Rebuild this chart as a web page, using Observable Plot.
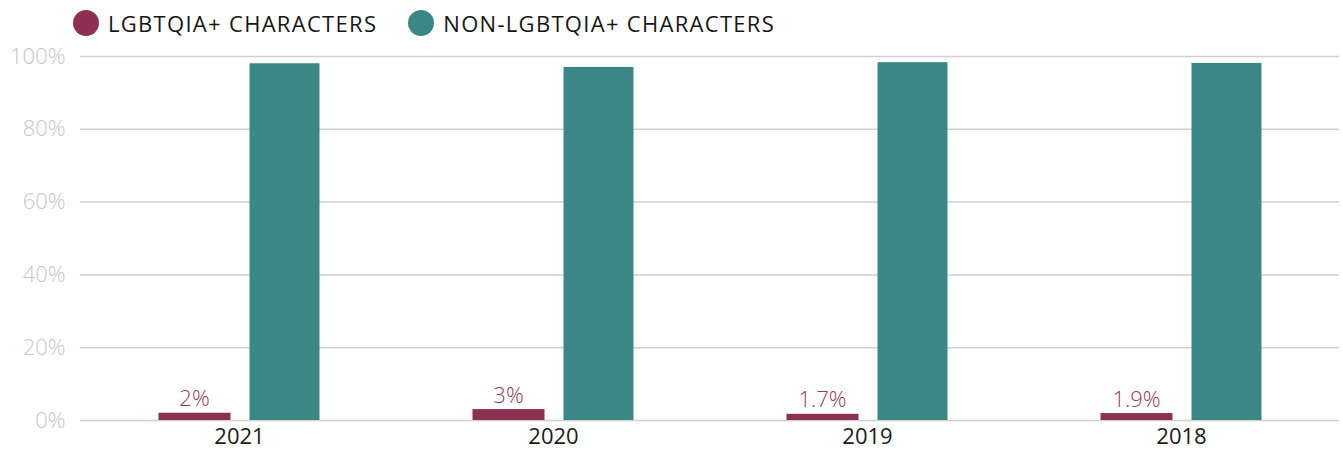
<!DOCTYPE html>
<html>
<head>
<meta charset="utf-8">
<script src="https://cdn.jsdelivr.net/npm/d3@7"></script>
<script src="https://cdn.jsdelivr.net/npm/@observablehq/plot@0.6"></script>
<style>
  html, body { margin: 0; padding: 0; background: #fff; }
  body { width: 1343px; height: 449px; overflow: hidden; font-family: "Open Sans", sans-serif; }
  #legend { height: 45px; display: flex; align-items: center; padding-left: 73px; box-sizing: border-box; font-size: 22px; color: #151515; letter-spacing: 1.3px; }
  .item { display: flex; align-items: center; margin-right: 31px; }
  .dot { width: 26px; height: 26px; border-radius: 50%; margin-right: 9px; flex: none; }
</style>
</head>
<body>
<div id="legend"></div>
<div id="chart"></div>
<script>
const years = ["2021", "2020", "2019", "2018"];
const series = ["LGBTQIA+ CHARACTERS", "NON-LGBTQIA+ CHARACTERS"];
const colors = ["#8C3152", "#3A8785"];
const lgbtValues = [2, 3, 1.7, 1.9];
const nonLgbtValues = [98, 97, 98.3, 98.1];
const lgbtLabels = ["2%", "3%", "1.7%", "1.9%"];
const yTicks = [0, 20, 40, 60, 80, 100];

const lgbtData = years.map((y, i) => ({year: y, series: series[0], value: lgbtValues[i], label: lgbtLabels[i]}));
const nonData = years.map((y, i) => ({year: y, series: series[1], value: nonLgbtValues[i]}));

const legend = document.getElementById("legend");
series.forEach((s, i) => {
  const it = document.createElement("div");
  it.className = "item";
  const d = document.createElement("span");
  d.className = "dot";
  d.style.background = colors[i];
  it.appendChild(d);
  const t = document.createElement("span");
  t.textContent = s;
  it.appendChild(t);
  legend.appendChild(it);
});

const chart = Plot.plot({
  width: 1343,
  height: 404,
  marginTop: 11,
  marginBottom: 29,
  marginLeft: 80,
  marginRight: 4,
  style: {fontFamily: "Open Sans, sans-serif", background: "#fff", overflow: "visible"},
  x: {domain: years, paddingInner: 0, paddingOuter: 0, label: null},
  y: {domain: [0, 100], label: null},
  color: {domain: series, range: colors},
  marks: [
    Plot.gridY(yTicks, {stroke: "#d0d0d0", strokeOpacity: 1, strokeWidth: 1.5}),
    Plot.axisY(yTicks, {tickSize: 0, tickPadding: 15, tickFormat: d => d + "%", fontSize: 22, fill: "#c6c6c6", fontWeight: 300, label: null}),
    Plot.axisX({tickSize: 0, tickPadding: 8, fontSize: 22, fill: "#1a1a1a", label: null}),
    Plot.barY(lgbtData, {x: "year", y: "value", fill: "series", insetLeft: 76.5, insetRight: 165.5}),
    Plot.barY(nonData, {x: "year", y: "value", fill: "series", insetLeft: 167.5, insetRight: 76.5}),
    Plot.text(lgbtData, {x: "year", y: "value", text: "label", dx: -45, lineAnchor: "bottom", dy: -7, fontSize: 22, fill: "#94405f", fontWeight: 300})
  ]
});
document.getElementById("chart").appendChild(chart);
</script>
</body>
</html>
